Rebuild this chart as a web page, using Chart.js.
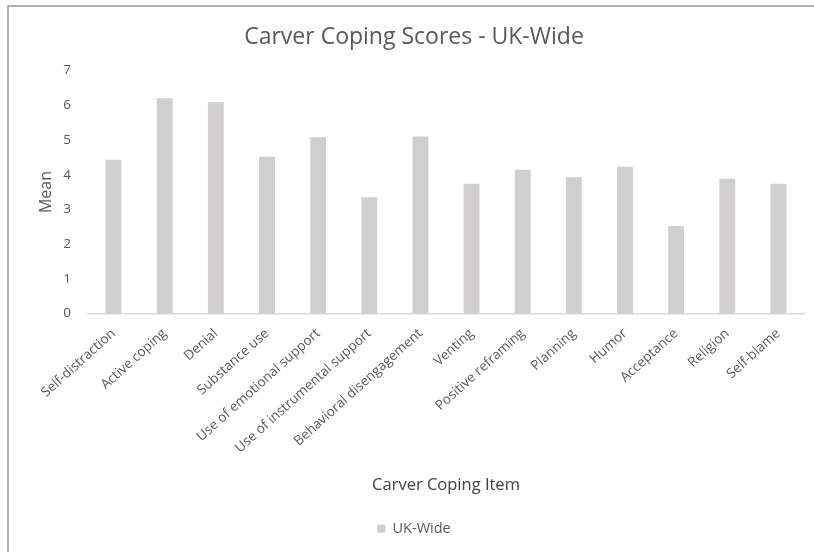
<!DOCTYPE html>
<html>
<head>
<meta charset="utf-8">
<script src="https://cdn.jsdelivr.net/npm/chart.js@4.4.0/dist/chart.umd.min.js"></script>
<style>
  html, body { margin: 0; padding: 0; background: #fff; overflow: hidden; }
  #wrap { width: 814px; height: 552px; position: relative; }
</style>
</head>
<body>
<div id="wrap"><canvas id="c" width="814" height="552"></canvas></div>
<script>
// Carver coping items and their UK-wide mean scores
const categories = [
  'Self-distraction', 'Active coping', 'Denial', 'Substance use',
  'Use of emotional support', 'Use of instrumental support',
  'Behavioral disengagement', 'Venting', 'Positive reframing',
  'Planning', 'Humor', 'Acceptance', 'Religion', 'Self-blame'
];
const ukWideMeans = [4.43, 6.20, 6.09, 4.52, 5.08, 3.35, 5.10, 3.74, 4.14, 3.93, 4.23, 2.52, 3.88, 3.74];
const yTicks = [0, 1, 2, 3, 4, 5, 6, 7];

const FONT = "'Open Sans', 'Noto Sans', sans-serif";
const GREY_TEXT = '#595959';
const BAR_COLOUR = '#d0cece';

// thin frame around the chart
const framePlugin = {
  id: 'frame',
  beforeDraw(chart) {
    const ctx = chart.ctx;
    ctx.save();
    ctx.fillStyle = '#ffffff';
    ctx.fillRect(0, 0, chart.width, chart.height);
    ctx.strokeStyle = '#9a9a9a';
    ctx.lineWidth = 1.5;
    ctx.strokeRect(8, 6, chart.width + 40, chart.height + 40);
    ctx.restore();
  }
};

new Chart(document.getElementById('c'), {
  type: 'bar',
  data: {
    labels: categories,
    datasets: [{
      label: 'UK-Wide',
      data: ukWideMeans,
      backgroundColor: BAR_COLOUR,
      borderWidth: 0,
      barPercentage: 0.31,
      categoryPercentage: 1.0
    }]
  },
  options: {
    responsive: false,
    animation: false,
    layout: { padding: { left: 24, right: 10, top: 12, bottom: 6 } },
    plugins: {
      title: {
        display: true,
        text: 'Carver Coping Scores - UK-Wide',
        color: GREY_TEXT,
        font: { family: FONT, size: 23, weight: 'normal' },
        padding: { top: 12, bottom: 19 }
      },
      legend: {
        display: true,
        position: 'bottom',
        labels: {
          color: GREY_TEXT,
          font: { family: FONT, size: 14.5 },
          boxWidth: 8,
          boxHeight: 8,
          padding: 10
        }
      },
      tooltip: { enabled: false }
    },
    scales: {
      x: {
        grid: { display: false },
        border: { display: true, color: '#d9d9d9', width: 1.5 },
        ticks: {
          color: GREY_TEXT,
          font: { family: FONT, size: 13.5 },
          maxRotation: 42,
          minRotation: 42,
          padding: 4,
          autoSkip: false
        },
        title: {
          display: true,
          text: 'Carver Coping Item',
          color: '#404040',
          font: { family: FONT, size: 16.5 },
          padding: { top: 4, bottom: 16 }
        },
        afterFit(scale) { scale.height = 198; }
      },
      y: {
        min: 0,
        max: 7,
        afterBuildTicks(scale) { scale.ticks = yTicks.map(v => ({ value: v })); },
        grid: { display: false },
        border: { display: false },
        ticks: {
          color: GREY_TEXT,
          font: { family: FONT, size: 13.5 },
          padding: 9
        },
        title: {
          display: true,
          text: 'Mean',
          color: GREY_TEXT,
          font: { family: FONT, size: 16 },
          padding: { top: 13, bottom: 0 }
        },
        afterFit(scale) { scale.width = 64; }
      }
    }
  },
  plugins: [framePlugin]
});
</script>
</body>
</html>
